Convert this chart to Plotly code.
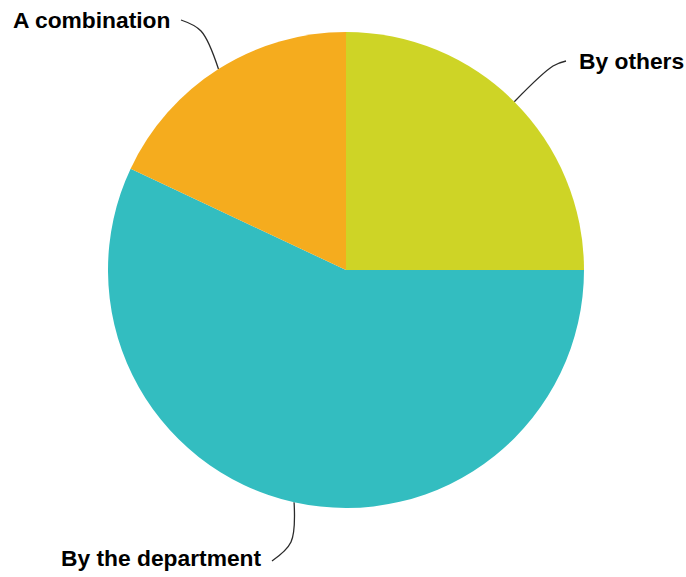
import math
import plotly.graph_objects as go

# Who carries out the work
labels = ["By others", "By the department", "A combination"]
values = [25, 57, 18]
colors = ["#CED426", "#33BDC0", "#F5AC1E"]

W, H = 686, 577
CX, CY, R = 346, 270, 238  # pie centre and radius in pixels

# label text anchor (left edge, vertical middle) and leader-line end/bend points
label_pos = {
    "By others": (577, 61),
    "A combination": (11, 20),
    "By the department": (59, 558),
}
leader_bend = {
    "By others": [(553, 66), (566, 61)],
    "A combination": [(201, 31), (181, 20)],
    "By the department": [(291, 542), (272, 561)],
}

fig = go.Figure()

fig.add_trace(go.Pie(
    labels=labels,
    values=values,
    marker=dict(colors=colors, line=dict(width=0)),
    sort=False,
    direction="clockwise",
    rotation=0,
    textinfo="none",
    hoverinfo="label+value",
    showlegend=False,
    domain=dict(
        x=[(CX - R) / W, (CX + R) / W],
        y=[1 - (CY + R) / H, 1 - (CY - R) / H],
    ),
))

# leader lines, starting at each slice's mid-angle on the rim
total = sum(values)
start = 0.0
for lab, v in zip(labels, values):
    mid = (start + v / 2) / total * 2 * math.pi
    start += v
    ax = CX + R * math.sin(mid)
    ay = CY - R * math.cos(mid)
    pts = [(ax, ay)] + leader_bend[lab]
    fig.add_trace(go.Scatter(
        x=[p[0] for p in pts], y=[p[1] for p in pts],
        mode="lines", line=dict(color="#2a2a2a", width=1.3, shape="spline"),
        hoverinfo="skip", showlegend=False,
        xaxis="x", yaxis="y",
    ))

for lab in labels:
    x, y = label_pos[lab]
    fig.add_annotation(
        x=x, y=y, xref="x", yref="y", text="<b>%s</b>" % lab,
        showarrow=False, xanchor="left", yanchor="middle",
        font=dict(family="Liberation Sans, Arial, sans-serif", size=22.8, color="#000000"),
    )

fig.update_layout(
    width=W, height=H,
    margin=dict(l=0, r=0, t=0, b=0),
    paper_bgcolor="white", plot_bgcolor="rgba(0,0,0,0)",
    xaxis=dict(range=[0, W], visible=False, fixedrange=True, domain=[0, 1]),
    yaxis=dict(range=[H, 0], visible=False, fixedrange=True, domain=[0, 1]),
)

fig.write_html("out.html")
